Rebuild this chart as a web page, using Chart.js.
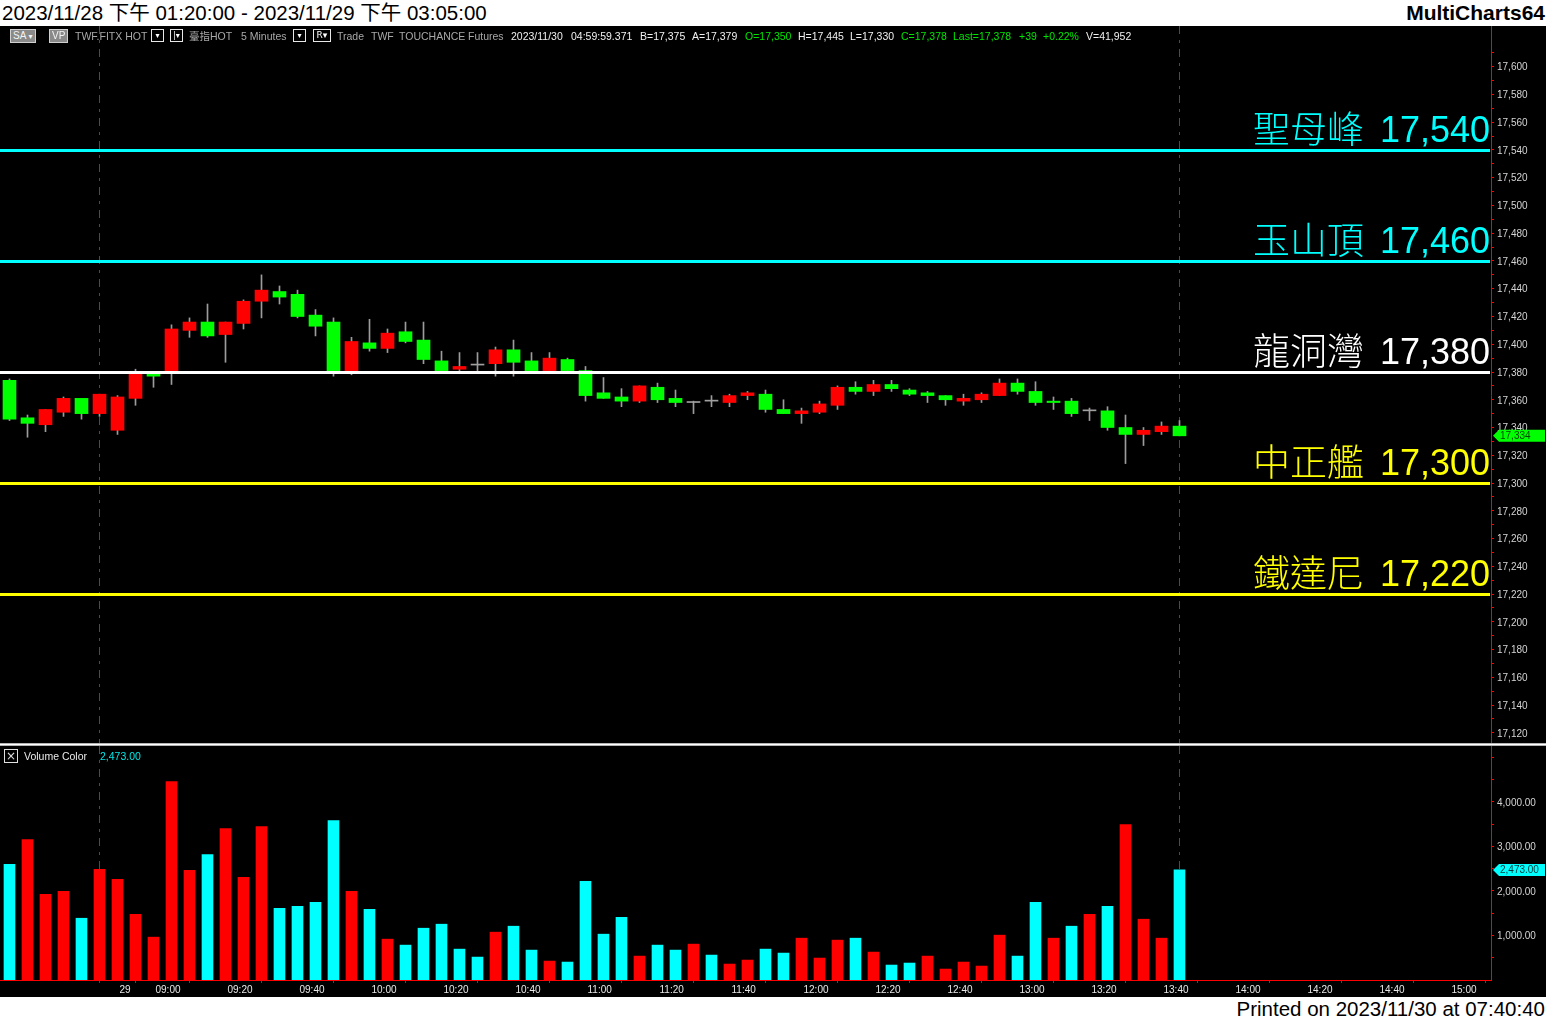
<!DOCTYPE html>
<html>
<head>
<meta charset="utf-8">
<script src="https://cdn.jsdelivr.net/npm/chart.js@4.4.1/dist/chart.umd.min.js"></script>
<style>
html,body{margin:0;padding:0;background:#fff;}
#page{position:relative;width:1546px;height:1020px;overflow:hidden;background:#fff;font-family:'Liberation Sans','Noto Sans CJK TC',sans-serif;}
.abs{position:absolute;white-space:nowrap;}
#black{left:0;top:26px;width:1546px;height:971px;background:#000;}
#title{left:2px;top:0;font-size:20.5px;line-height:25px;color:#000;}
#brand{right:1px;top:0;font-size:21px;font-weight:bold;line-height:25px;color:#000;}
#printed{right:1px;top:997px;font-size:20.5px;line-height:23px;color:#000;}
.st{top:30px;font-size:10.5px;line-height:12px;}
.g{color:#a8a8a8}.w{color:#f0f0f0}.gr{color:#00e600}
.btn{top:29px;height:12px;line-height:12px;font-size:10px;background:#8a8a8a;color:#f4f4f4;border:1px solid #d0d0d0;padding:0 2px;}
.dd{top:29px;width:11px;height:11px;line-height:11px;border:1px solid #e8e8e8;color:#fff;font-size:8px;text-align:center;font-family:'DejaVu Sans',sans-serif;}
</style>
</head>
<body>
<div id="page">
  <div id="title" class="abs">2023/11/28 下午 01:20:00 - 2023/11/29 下午 03:05:00</div>
  <div id="brand" class="abs">MultiCharts64</div>
  <div id="black" class="abs"></div>
  <canvas id="pc" class="abs" width="1546" height="718" style="left:0;top:26px;width:1546px;height:718px"></canvas>
  <canvas id="vc" class="abs" width="1546" height="251" style="left:0;top:746px;width:1546px;height:251px"></canvas>
  <div class="abs" style="left:0;top:743px;width:1546px;height:3px;background:linear-gradient(#b4b4b4 0 1px,#ffffff 1px 2px,#b4b4b4 2px 3px)"></div>

  <!-- status bar -->
  <div class="abs btn" style="left:10px">SA <span style="font-family:'DejaVu Sans';font-size:8px">▾</span></div>
  <div class="abs btn" style="left:49px">VP</div>
  <div class="abs st g" style="left:75px">TWF.FITX HOT</div>
  <div class="abs dd" style="left:151px">▾</div>
  <div class="abs dd" style="left:170px">|▾</div>
  <div class="abs st g" style="left:189px">臺指HOT</div>
  <div class="abs st g" style="left:241px">5 Minutes</div>
  <div class="abs dd" style="left:293px">▾</div>
  <div class="abs dd" style="left:313px;width:16px;font-size:9px">R▾</div>
  <div class="abs st g" style="left:337px">Trade</div>
  <div class="abs st g" style="left:371px">TWF</div>
  <div class="abs st g" style="left:399px">TOUCHANCE</div>
  <div class="abs st g" style="left:468px">Futures</div>
  <div class="abs st w" style="left:511px">2023/11/30</div>
  <div class="abs st w" style="left:571px">04:59:59.371</div>
  <div class="abs st w" style="left:640px">B=17,375</div>
  <div class="abs st w" style="left:692px">A=17,379</div>
  <div class="abs st gr" style="left:745px">O=17,350</div>
  <div class="abs st w" style="left:798px">H=17,445</div>
  <div class="abs st w" style="left:850px">L=17,330</div>
  <div class="abs st gr" style="left:901px">C=17,378</div>
  <div class="abs st gr" style="left:953px">Last=17,378</div>
  <div class="abs st gr" style="left:1019px">+39</div>
  <div class="abs st gr" style="left:1043px">+0.22%</div>
  <div class="abs st w" style="left:1086px">V=41,952</div>

  <!-- volume legend -->
  <div class="abs" style="left:4px;top:749px;width:12px;height:12px;border:1px solid #e0e0e0;color:#e0e0e0;font-size:12px;line-height:12px;text-align:center;font-family:'DejaVu Sans',sans-serif">×</div>
  <div class="abs" style="left:24px;top:750px;font-size:10.5px;line-height:12px;color:#e8e8e8">Volume Color</div>
  <div id="volLegend" class="abs" style="left:100px;top:750px;font-size:10.5px;line-height:12px;color:#00e8e8"></div>

  <div id="printed" class="abs">Printed on 2023/11/30 at 07:40:40</div>
</div>

<script>
// ---- bar categories (5-minute bars, end time) ----
const barTimes = [
  '13:20','13:25','13:30','13:35','13:40','13:45',
  '08:50','08:55','09:00','09:05','09:10','09:15','09:20','09:25','09:30','09:35','09:40','09:45','09:50','09:55',
  '10:00','10:05','10:10','10:15','10:20','10:25','10:30','10:35','10:40','10:45','10:50','10:55',
  '11:00','11:05','11:10','11:15','11:20','11:25','11:30','11:35','11:40','11:45','11:50','11:55',
  '12:00','12:05','12:10','12:15','12:20','12:25','12:30','12:35','12:40','12:45','12:50','12:55',
  '13:00','13:05','13:10','13:15','13:20','13:25','13:30','13:35','13:40','13:45'
];

// ---- OHLC ----
const opens = [
  17374,17347,17342,17351,17361,17350,17338,17361,17379,17380,
  17410,17416,17407,17415,17431,17438,17436,17421,17416,17379,
  17401,17397,17409,17403,17388,17382,17385,17386,17396,17388,
  17381,17389,17381,17365,17362,17359,17369,17361,17358,17359,
  17358,17363,17364,17353,17350,17351,17356,17369,17366,17371,
  17367,17365,17363,17359,17360,17363,17372,17366,17359,17359,
  17352,17352,17340,17335,17337,17341
];
const highs = [
  17375,17349,17353,17362,17361,17364,17363,17382,17380,17414,
  17419,17429,17416,17432,17450,17442,17439,17425,17419,17405,
  17418,17411,17416,17416,17395,17394,17394,17398,17403,17394,
  17394,17390,17384,17376,17368,17370,17372,17367,17359,17363,
  17364,17366,17367,17360,17354,17359,17370,17373,17374,17374,
  17368,17366,17363,17364,17365,17375,17375,17373,17362,17361,
  17354,17355,17349,17340,17344,17345
];
const lows = [
  17345,17333,17337,17348,17346,17348,17335,17356,17369,17371,
  17405,17405,17387,17411,17419,17429,17419,17406,17377,17378,
  17395,17394,17401,17386,17381,17381,17381,17377,17377,17381,
  17381,17381,17359,17361,17355,17358,17358,17355,17350,17355,
  17355,17360,17351,17350,17343,17350,17353,17364,17363,17366,
  17363,17358,17356,17356,17358,17363,17364,17356,17353,17348,
  17345,17338,17314,17327,17335,17334
];
const closes = [
  17346,17343,17353,17361,17350,17364,17362,17379,17377,17411,
  17416,17406,17416,17431,17439,17434,17420,17413,17379,17402,
  17397,17408,17402,17389,17381,17384,17385,17396,17387,17381,
  17390,17381,17363,17361,17359,17370,17360,17358,17358,17359,
  17363,17365,17353,17350,17352,17357,17369,17366,17371,17368,
  17364,17363,17360,17361,17364,17372,17366,17358,17358,17350,
  17352,17340,17335,17338,17341,17334
];

// ---- volume ----
const volumes = [
  2597,3157,1926,1993,1388,2485,2261,1478,963,4456,
  2463,2821,3403,2306,3448,1612,1657,1746,3582,1993,
  1590,918,784,1164,1254,694,515,1075,1209,672,
  425,403,2217,1030,1411,537,784,672,806,560,
  358,448,694,605,940,493,896,940,627,336,
  381,537,246,403,313,1008,537,1746,940,1209,
  1478,1657,3493,1366,940,2473
];
const volumeSide = [
  'D','U','U','U','D','U','U','U','U','U',
  'U','D','U','U','U','D','D','D','D','U',
  'D','U','D','D','D','D','D','U','D','D',
  'U','D','D','D','D','U','D','D','U','D',
  'U','U','D','D','U','U','U','D','U','D',
  'D','U','U','U','U','U','D','D','U','D',
  'U','D','U','U','U','D'
];

// ---- price levels ----
const levelNames  = ['聖母峰','玉山頂','龍洞灣','中正艦','鐵達尼'];
const levelPrices = [17540, 17460, 17380, 17300, 17220];
const levelColors = ['#00ffff','#00ffff','#ffffff','#ffff00','#ffff00'];

// ---- x tick labels (bar index where they sit) ----
const xTickBars   = [6, 8, 12, 16, 20, 24, 28, 32, 36, 40, 44, 48, 52, 56, 60, 64, 68, 72, 76, 80];
const xTickLabels = ['29','09:00','09:20','09:40','10:00','10:20','10:40','11:00','11:20','11:40',
                     '12:00','12:20','12:40','13:00','13:20','13:40','14:00','14:20','14:40','15:00'];
const sessionMarkBars = [5, 65];

// ---- volume axis ticks ----
const volTickValues = [500, 1000, 1500, 2000, 2500, 3000, 3500, 4000, 4500, 5000];
const volTickLabeled = [1000, 2000, 3000, 4000];

// ---- view ranges ----
const X_MIN = -0.52778, X_MAX = 82.3056;
const P_MIN = 17111.9, P_MAX = 17614.95;
const V_MIN = 0, V_MAX = 5258;

const UP = '#ff0000', DOWN = '#00ff00', DOJI = '#a0a0a0', WICK = '#9c9c9c';
const VUP = '#ff0000', VDOWN = '#00ffff';
const AXIS_RED = '#ff0000';
const TICK_FONT = {family: "'Liberation Sans', Arial, sans-serif", size: 10};

const bodyData = barTimes.map((t, i) => ({x: i, y: [opens[i], closes[i]]}));
const wickData = barTimes.map((t, i) => ({x: i, y: [lows[i], highs[i]]}));
const bodyColors = barTimes.map((t, i) => closes[i] > opens[i] ? UP : (closes[i] < opens[i] ? DOWN : DOJI));
const volData = barTimes.map((t, i) => ({x: i, y: volumes[i]}));
const volColors = volumeSide.map(s => s === 'U' ? VUP : VDOWN);

const fmt = v => v.toLocaleString('en-US');
const fmt2 = v => v.toLocaleString('en-US', {minimumFractionDigits: 2, maximumFractionDigits: 2});

document.getElementById('volLegend').textContent = fmt2(volumes[volumes.length - 1]);

function sessionLinesPlugin(id) {
  return {
    id,
    beforeDatasetsDraw(chart) {
      const {ctx, chartArea} = chart;
      const x = chart.scales.x;
      ctx.save();
      ctx.strokeStyle = '#4c4c4c';
      ctx.lineWidth = 1;
      ctx.setLineDash([8, 6, 3, 6]);
      sessionMarkBars.forEach(b => {
        const px = Math.floor(x.getPixelForValue(b)) + 0.5;
        ctx.beginPath();
        ctx.moveTo(px, 0);
        ctx.lineTo(px, chartArea.bottom);
        ctx.stroke();
      });
      ctx.restore();
    }
  };
}

function tagPlugin(id, getVal, label, fill, textColor) {
  return {
    id,
    afterDraw(chart) {
      const {ctx, chartArea} = chart;
      const y = chart.scales.y;
      const py = y.getPixelForValue(getVal());
      const x0 = chartArea.right + 2;
      const w = chart.width;
      ctx.save();
      ctx.fillStyle = fill;
      ctx.beginPath();
      ctx.moveTo(x0, py);
      ctx.lineTo(x0 + 6, py - 6);
      ctx.lineTo(w - 1, py - 6);
      ctx.lineTo(w - 1, py + 6);
      ctx.lineTo(x0 + 6, py + 6);
      ctx.closePath();
      ctx.fill();
      ctx.fillStyle = textColor;
      ctx.font = "10px 'Liberation Sans', Arial, sans-serif";
      ctx.textAlign = 'left';
      ctx.textBaseline = 'middle';
      ctx.fillText(label(), x0 + 7, py + 0.5);
      ctx.restore();
    }
  };
}

const levelsPlugin = {
  id: 'levels',
  afterDatasetsDraw(chart) {
    const {ctx, chartArea} = chart;
    const y = chart.scales.y;
    ctx.save();
    levelPrices.forEach((p, i) => {
      const py = y.getPixelForValue(p);
      ctx.fillStyle = levelColors[i];
      ctx.fillRect(chartArea.left, Math.round(py) - 1, chartArea.right - chartArea.left - 1, 3);
      ctx.textAlign = 'right';
      ctx.textBaseline = 'alphabetic';
      const num = fmt(p);
      ctx.font = "36px 'Liberation Sans', Arial, sans-serif";
      const numW = ctx.measureText(num).width;
      const xr = chartArea.right - 1;
      ctx.fillText(num, xr, py - 8);
      ctx.font = "300 37px 'Noto Sans CJK TC', 'Noto Sans CJK SC', sans-serif";
      ctx.fillText(levelNames[i], xr - numW - 16, py - 7);
    });
    ctx.restore();
  }
};

const axisExtPlugin = {
  id: 'axisExt',
  afterDraw(chart) {
    const {ctx, chartArea} = chart;
    ctx.save();
    ctx.strokeStyle = AXIS_RED;
    ctx.lineWidth = 1;
    ctx.beginPath();
    ctx.moveTo(chartArea.right + 0.5, 0);
    ctx.lineTo(chartArea.right + 0.5, chartArea.top);
    ctx.stroke();
    ctx.restore();
  }
};

function yAfterFit(s) { s.width = 55; s.paddingTop = 0; s.paddingBottom = 0; }

// ---------- price chart ----------
new Chart(document.getElementById('pc'), {
  type: 'bar',
  data: {
    datasets: [
      {label: 'wick', data: wickData, backgroundColor: WICK, grouped: false, order: 1,
       maxBarThickness: 1, barPercentage: 1, categoryPercentage: 1},
      {label: 'body', data: bodyData, backgroundColor: bodyColors, grouped: false, order: 0,
       maxBarThickness: 13, barPercentage: 1, categoryPercentage: 1, minBarLength: 1}
    ]
  },
  options: {
    responsive: false,
    animation: false,
    layout: {padding: {top: 20, left: 0, right: 0, bottom: 0}},
    plugins: {legend: {display: false}, tooltip: {enabled: false}},
    scales: {
      x: {type: 'linear', min: X_MIN, max: X_MAX, display: false, offset: false},
      y: {
        type: 'linear', position: 'right', min: P_MIN, max: P_MAX, beginAtZero: false,
        afterFit: yAfterFit,
        grid: {display: true, drawOnChartArea: false, drawTicks: true, tickLength: 3, color: AXIS_RED},
        border: {display: true, color: AXIS_RED, width: 1},
        ticks: {stepSize: 10, includeBounds: false, autoSkip: false, padding: 3, labelOffset: 1,
                color: '#d4d4d4', font: TICK_FONT,
                callback: v => (Math.round(v) % 20 === 0 ? fmt(Math.round(v)) : '')}
      }
    }
  },
  plugins: [sessionLinesPlugin('sessP'), levelsPlugin, axisExtPlugin,
            tagPlugin('ptag', () => closes[closes.length - 1], () => fmt(closes[closes.length - 1]), '#00ff00', '#004400')]
});

// ---------- volume chart ----------
new Chart(document.getElementById('vc'), {
  type: 'bar',
  data: {
    datasets: [
      {label: 'Volume Color', data: volData, backgroundColor: volColors, grouped: false,
       maxBarThickness: 11, barPercentage: 1, categoryPercentage: 1}
    ]
  },
  options: {
    responsive: false,
    animation: false,
    layout: {padding: 0},
    plugins: {legend: {display: false}, tooltip: {enabled: false}},
    scales: {
      x: {
        type: 'linear', min: X_MIN, max: X_MAX, offset: false, position: 'bottom',
        afterBuildTicks: s => { s.ticks = xTickBars.map(v => ({value: v})); },
        afterFit: s => { s.height = 17; s.paddingLeft = 0; s.paddingRight = 0; },
        grid: {display: true, drawOnChartArea: false, drawTicks: true, tickLength: 3, color: AXIS_RED},
        border: {display: true, color: AXIS_RED, width: 1},
        ticks: {autoSkip: false, maxRotation: 0, minRotation: 0, align: 'start', labelOffset: 2, padding: 1,
                color: '#e8e8e8', font: TICK_FONT,
                callback: (v, i) => xTickLabels[i]}
      },
      y: {
        type: 'linear', position: 'right', min: V_MIN, max: V_MAX,
        afterBuildTicks: s => { s.ticks = volTickValues.map(v => ({value: v})); },
        afterFit: yAfterFit,
        grid: {display: true, drawOnChartArea: false, drawTicks: true, tickLength: 3, color: AXIS_RED},
        border: {display: true, color: AXIS_RED, width: 1},
        ticks: {autoSkip: false, padding: 3, labelOffset: 1,
                color: '#d4d4d4', font: TICK_FONT,
                callback: (v, i) => (volTickLabeled.includes(volTickValues[i]) ? fmt2(volTickValues[i]) : '')}
      }
    }
  },
  plugins: [sessionLinesPlugin('sessV'),
            tagPlugin('vtag', () => volumes[volumes.length - 1], () => fmt2(volumes[volumes.length - 1]), '#00ffff', '#003838')]
});
</script>
</body>
</html>
